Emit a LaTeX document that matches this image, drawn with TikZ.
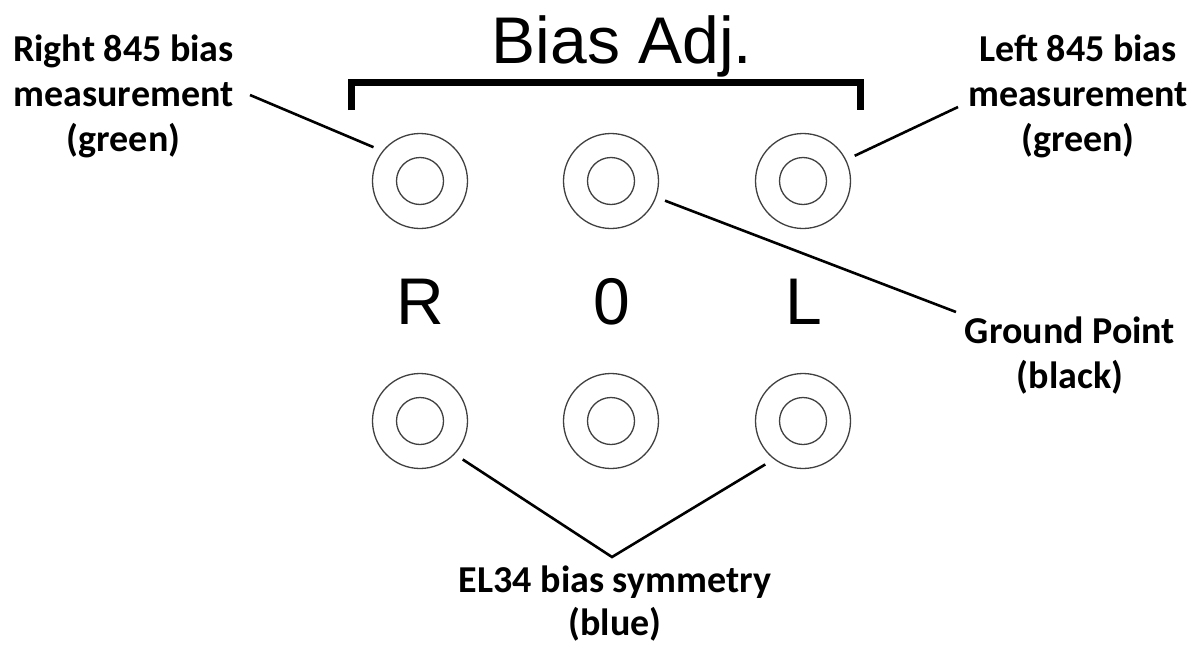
\documentclass[tikz,border=0pt]{standalone}
\usepackage{fontspec}
\setmainfont{Carlito}
\newfontfamily\arialf{Liberation Sans}
\begin{document}
\begin{tikzpicture}[x=1pt,y=-1pt,
  jack/.style={circle, draw=black!75, line width=1.3pt, minimum size=95pt, inner sep=0pt, outer sep=10pt},
  hole/.style={circle, draw=black!75, line width=1.3pt, minimum size=47pt, inner sep=0pt},
  lbl/.style={font=\bfseries\fontsize{38}{45}\selectfont, align=center, inner sep=0pt, anchor=north},
  big/.style={font=\arialf\fontsize{66}{70}\selectfont, inner sep=0pt, anchor=base},
  conn/.style={line width=2.6pt, black},
  bracket/.style={line width=7pt, line join=miter}]
\fill[white] (0,0) rectangle (1198,645);
\useasboundingbox (0,0) rectangle (1198,645);
% title and bracket
\node[big] (title) at (622,63) {Bias Adj.};
\draw[bracket] (351,110) -- (351,82.5) -- (860.5,82.5) -- (860.5,110);
% jacks
\node[jack] (jR) at (420,181) {}; \node[hole] (hR) at (jR) {};
\node[jack] (j0) at (611,181) {}; \node[hole] (h0) at (j0) {};
\node[jack] (jL) at (803,181) {}; \node[hole] (hL) at (jL) {};
\node[jack] (bR) at (420,421) {}; \node[hole] (gR) at (bR) {};
\node[jack] (b0) at (611,421) {}; \node[hole] (g0) at (b0) {};
\node[jack] (bL) at (803,421) {}; \node[hole] (gL) at (bL) {};
% letters
\node[big] (tR) at (420,324) {R};
\node[big] (t0) at (612,324) {0};
\node[big] (tL) at (804,324) {L};
% labels
\node[lbl] (rlab) at (123.5,35) {Right 845 bias\\measurement\\(green)};
\node[lbl] (llab) at (1078,35) {Left 845 bias\\measurement\\(green)};
\node[lbl] (glab) at (1070,317) {Ground Point\\(black)};
\node[lbl, font=\bfseries\fontsize{38}{43}\selectfont] (elab) at (615,566) {EL34 bias symmetry\\(blue)};
% connector ends
\coordinate (rlp) at (250,95);
\coordinate (llp) at (958,107);
\coordinate (gp) at (956,312);
\coordinate (ep) at (612,557);
\draw[conn] (rlp) -- (jR.144);
\draw[conn] (llp) -- (jL.26);
\draw[conn] (j0.-20) -- (gp);
\draw[conn] (bR.-42) -- (ep) -- (bL.229);
\end{tikzpicture}
\end{document}
